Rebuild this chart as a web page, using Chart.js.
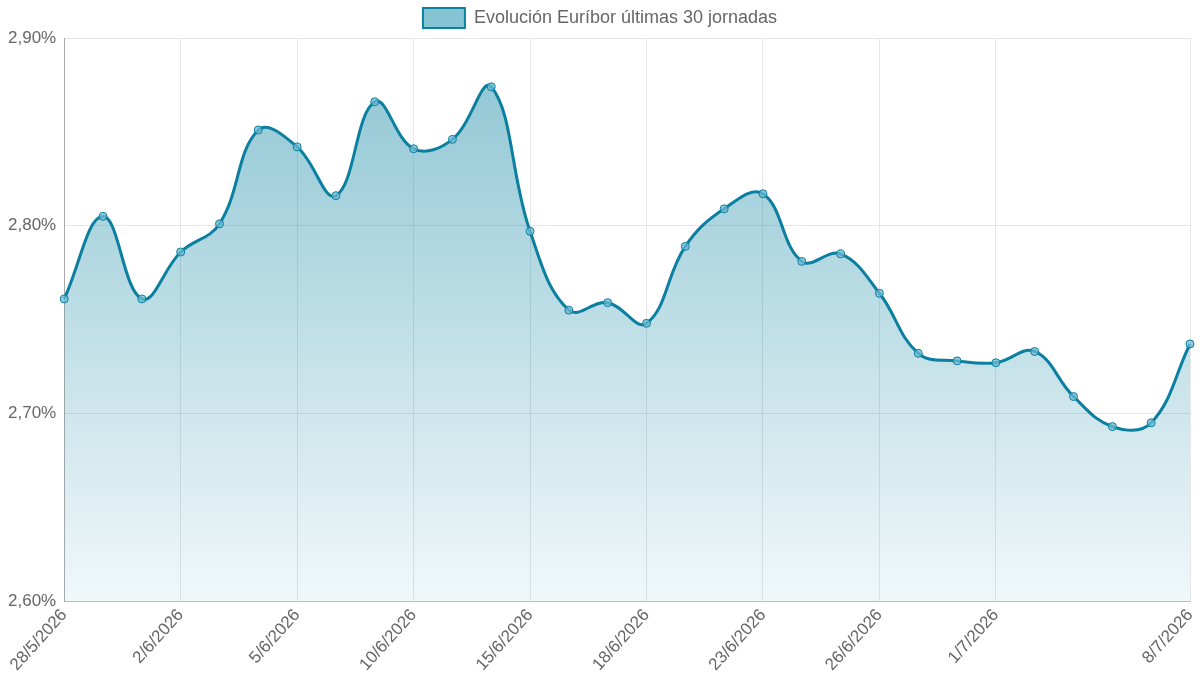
<!DOCTYPE html>
<html>
<head>
<meta charset="utf-8">
<script src="https://cdn.jsdelivr.net/npm/chart.js@4/dist/chart.umd.min.js"></script>
<style>
  html, body { margin: 0; padding: 0; background: #fff; }
  #wrap { width: 1200px; height: 700px; }
</style>
</head>
<body>
<div id="wrap"><canvas id="myChart"></canvas></div>
<script>
var labels = ['28/5/2026', '29/5/2026', '1/6/2026', '2/6/2026', '3/6/2026', '4/6/2026', '5/6/2026',
  '8/6/2026', '9/6/2026', '10/6/2026', '11/6/2026', '12/6/2026', '15/6/2026', '16/6/2026', '17/6/2026',
  '18/6/2026', '19/6/2026', '22/6/2026', '23/6/2026', '24/6/2026', '25/6/2026', '26/6/2026',
  '29/6/2026', '30/6/2026', '1/7/2026', '2/7/2026', '3/7/2026', '6/7/2026', '7/7/2026', '8/7/2026'];
var euribor = [2.761, 2.805, 2.761, 2.786, 2.801, 2.851, 2.842, 2.816, 2.866, 2.841, 2.846, 2.874,
  2.797, 2.755, 2.759, 2.748, 2.789, 2.809, 2.817, 2.781, 2.785, 2.764,
  2.732, 2.728, 2.727, 2.733, 2.709, 2.693, 2.695, 2.737];
var shownTicks = [0, 3, 6, 9, 12, 15, 18, 21, 24, 29];

Chart.defaults.font.family = 'Arial, "Liberation Sans", sans-serif';
Chart.defaults.font.size = 17;
Chart.defaults.color = '#666';

var ctx = document.getElementById('myChart').getContext('2d');
var grad = ctx.createLinearGradient(0, 38, 0, 601);
grad.addColorStop(0, 'rgba(10, 130, 160, 0.47)');
grad.addColorStop(1, 'rgba(10, 130, 160, 0.06)');

var myChart = new Chart(ctx, {
    type: 'line',
    data: {
        labels: labels,
        datasets: [{
            label: 'Evolución Euríbor últimas 30 jornadas',
            data: euribor,
            borderColor: '#0a7f9f',
            borderWidth: 3,
            backgroundColor: grad,
            fill: true,
            tension: 0.4,
            pointRadius: 4,
            pointBorderWidth: 1,
            pointBackgroundColor: 'rgba(110, 185, 210, 0.75)',
            pointBorderColor: '#0a7f9f'
        }]
    },
    options: {
        responsive: true,
        maintainAspectRatio: false,
        animation: false,
        layout: { padding: { right: 0, bottom: 21 } },
        plugins: {
            legend: {
                labels: {
                    boxWidth: 42,
                    boxHeight: 20,
                    padding: 8,
                    font: { size: 18 },
                    generateLabels: function (chart) {
                        var l = Chart.defaults.plugins.legend.labels.generateLabels(chart);
                        l.forEach(function (it) { it.fillStyle = '#86c3d3'; it.strokeStyle = '#0a829f'; it.lineWidth = 2; });
                        return l;
                    }
                }
            },
            tooltip: { enabled: false }
        },
        scales: {
            x: {
                grid: { color: '#e6e6e6', drawTicks: false },
                border: { color: '#bbb' },
                afterFit: function (scale) { scale.paddingRight = 10; },
                ticks: {
                    autoSkip: false,
                    maxRotation: 48,
                    minRotation: 48,
                    padding: 4,
                    callback: function (v, i) {
                        return shownTicks.indexOf(i) >= 0 ? labels[i] : null;
                    }
                }
            },
            y: {
                min: 2.6,
                max: 2.9,
                grid: { color: '#e6e6e6', drawTicks: false },
                border: { color: '#aaa' },
                ticks: {
                    stepSize: 0.1,
                    padding: 8,
                    callback: function (v) { return v.toFixed(2).replace('.', ',') + '%'; }
                }
            }
        }
    }
});
</script>
</body>
</html>
